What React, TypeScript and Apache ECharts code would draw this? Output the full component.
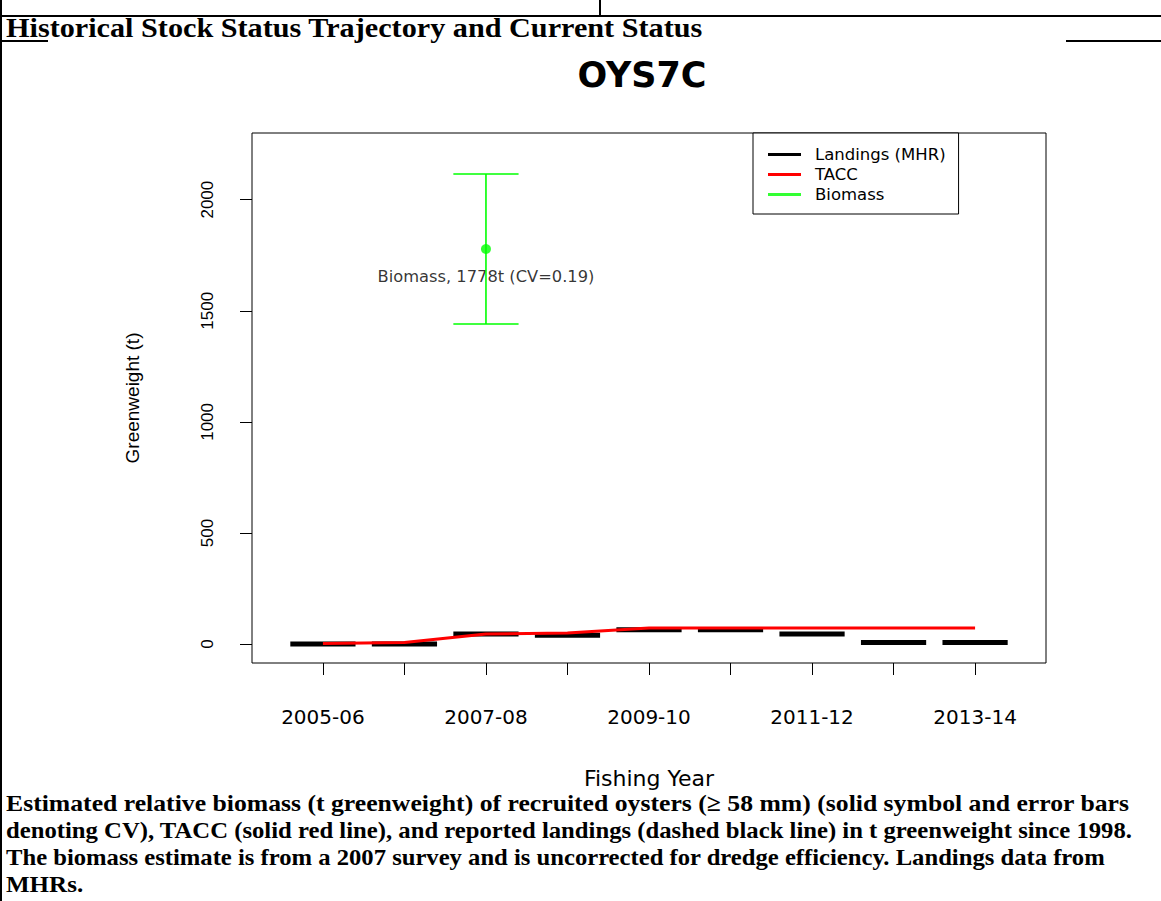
import React, { useEffect, useRef } from 'react';
import * as echarts from 'echarts';

// ---- data ----
const yearLabels = ['2005-06', '2006-07', '2007-08', '2008-09', '2009-10', '2010-11', '2011-12', '2012-13', '2013-14'];
const xTickIdx = [0, 1, 2, 3, 4, 5, 6, 7, 8];
const xLabelIdx = [0, 2, 4, 6, 8];
const yTicks = [0, 500, 1000, 1500, 2000];
const landings = [0, 0, 45, 40, 65, 65, 45, 7, 7];
const tacc = [3, 7, 45, 50, 72, 72, 72, 72, 72];
const biomassIdx = 2;
const biomassValue = 1778;
const biomassCV = 0.19;
const biomassLabelValue = 1655;
const biomassLabel = 'Biomass, 1778t (CV=0.19)';
const legendNames = ['Landings (MHR)', 'TACC', 'Biomass'];
const chartTitle = 'OYS7C';
const xTitle = 'Fishing Year';
const yTitle = 'Greenweight (t)';
const headerText = 'Historical Stock Status Trajectory and Current Status';
const captionLines = [
  'Estimated relative biomass (t greenweight) of recruited oysters (\u2265 58 mm) (solid symbol and error bars',
  'denoting CV), TACC (solid red line), and reported landings (dashed black line) in t greenweight since 1998.',
  'The biomass estimate is from a 2007 survey and is uncorrected for dredge efficiency. Landings data from',
  'MHRs.',
];

const SANS = '"DejaVu Sans", sans-serif';
const ARIAL = '"Liberation Sans", Arial, sans-serif';
const SERIF = '"Liberation Serif", "Times New Roman", serif';

function measure(text: string, font: string): number {
  const c = document.createElement('canvas').getContext('2d');
  if (!c) return 1;
  c.font = font;
  return c.measureText(text).width || 1;
}

export default function App() {
  const ref = useRef<HTMLDivElement>(null);
  useEffect(() => {
    if (!ref.current) return;
    const chart = echarts.init(ref.current, undefined, { renderer: 'svg' });

    const headerSize = 27;
    const headerScale = 697 / measure(headerText, `bold ${headerSize}px ${SERIF}`);
    const capSize = 24;
    const capFont = `bold ${capSize}px ${SERIF}`;
    const capTargets = [1124, 1127, 1100];
    const capScales = capTargets.map((w, i) => w / measure(captionLines[i], capFont));
    const avgScale = (capScales[0] + capScales[1] + capScales[2]) / 3;
    const capY = [803, 830, 857, 884];

    const border = { stroke: '#000', lineWidth: 2 };
    const graphics: any[] = [
      { type: 'line', shape: { x1: 1, y1: 0, x2: 1, y2: 901 }, style: border },
      { type: 'line', shape: { x1: 0, y1: 16, x2: 1161, y2: 16 }, style: border },
      { type: 'line', shape: { x1: 600, y1: 0, x2: 600, y2: 16 }, style: border },
      { type: 'line', shape: { x1: 0, y1: 41, x2: 48, y2: 41 }, style: border },
      { type: 'line', shape: { x1: 1066, y1: 41, x2: 1161, y2: 41 }, style: border },
      {
        type: 'text', x: 6, y: 28, scaleX: headerScale,
        style: { text: headerText, x: 0, y: 0, fontFamily: SERIF, fontWeight: 'bold', fontSize: headerSize, fill: '#000', align: 'left', verticalAlign: 'middle' },
      },
      {
        type: 'text', x: 642, y: 75,
        style: { text: chartTitle, x: 0, y: 0, fontFamily: SANS, fontWeight: 'bold', fontSize: 35, fill: '#000', align: 'center', verticalAlign: 'middle' },
      },
      ...captionLines.map((t, i) => ({
        type: 'text', x: 6, y: capY[i], scaleX: i < 3 ? capScales[i] : avgScale,
        style: { text: t, x: 0, y: 0, fontFamily: SERIF, fontWeight: 'bold', fontSize: capSize, fill: '#000', align: 'left', verticalAlign: 'middle' },
      })),
    ];

    const lo = biomassValue * (1 - biomassCV);
    const hi = biomassValue * (1 + biomassCV);

    const option: any = {
      animation: false,
      backgroundColor: '#fff',
      grid: {
        left: 252, top: 133, width: 794, height: 530,
        show: true, borderColor: '#000', borderWidth: 1, backgroundColor: 'transparent',
        containLabel: false, outerBoundsMode: 'none',
      },
      xAxis: {
        type: 'value', min: -0.87, max: 8.87,
        axisLine: { show: false, onZero: false },
        splitLine: { show: false },
        axisTick: { show: true, inside: false, length: 12, customValues: xTickIdx, lineStyle: { color: '#000', width: 1 } },
        axisLabel: {
          show: true, customValues: xLabelIdx, margin: 44,
          formatter: (v: number) => yearLabels[Math.round(v)] ?? '',
          fontFamily: SANS, fontSize: 20, color: '#000',
        },
        name: xTitle, nameLocation: 'middle', nameGap: 104,
        nameTextStyle: { fontFamily: SANS, fontSize: 22, color: '#000' },
      },
      yAxis: {
        type: 'value', min: -85, max: 2300,
        axisLine: { show: false, onZero: false },
        splitLine: { show: false },
        axisTick: { show: true, inside: false, length: 12, customValues: yTicks, lineStyle: { color: '#000', width: 1 } },
        axisLabel: {
          show: true, customValues: yTicks, rotate: 90, margin: 36,
          formatter: (v: number) => String(v),
          fontFamily: ARIAL, fontSize: 17, color: '#000',
        },
        name: yTitle, nameLocation: 'middle', nameGap: 110, nameRotate: 90,
        nameTextStyle: { fontFamily: ARIAL, fontSize: 19, color: '#000' },
      },
      legend: {
        orient: 'vertical', left: 753, top: 133,
        backgroundColor: '#fff', borderColor: '#000', borderWidth: 1, borderRadius: 0,
        padding: [13, 13, 11, 15], itemWidth: 33, itemHeight: 3, itemGap: 3,
        selectedMode: false,
        textStyle: { fontFamily: SANS, fontSize: 16.5, color: '#000', lineHeight: 16, padding: [0, 0, 0, 9] },
        data: legendNames.map((n) => ({ name: n, icon: 'rect' })),
      },
      tooltip: { show: false },
      series: [
        {
          name: legendNames[0], type: 'custom', z: 2,
          itemStyle: { color: '#000' },
          encode: { x: 0, y: 1 },
          data: landings.map((v, i) => [i, v]),
          renderItem: (params: any, api: any) => {
            const x = api.value(0), y = api.value(1);
            const a = api.coord([x - 0.4, y]);
            const b = api.coord([x + 0.4, y]);
            return { type: 'line', shape: { x1: a[0], y1: a[1], x2: b[0], y2: b[1] }, style: { stroke: '#000', lineWidth: 5, lineCap: 'butt' } };
          },
        },
        {
          name: legendNames[1], type: 'line', z: 3,
          data: tacc.map((v, i) => [i, v]),
          showSymbol: false, symbol: 'none',
          itemStyle: { color: '#ff0000' },
          lineStyle: { color: '#ff0000', width: 3 },
        },
        {
          name: 'annotation', type: 'scatter', z: 4, silent: true,
          data: [[biomassIdx, biomassLabelValue]],
          symbolSize: 1, itemStyle: { color: 'rgba(0,0,0,0)' },
          label: { show: true, position: 'inside', formatter: biomassLabel, fontFamily: SANS, fontSize: 16.3, color: '#000' },
        },
        {
          name: 'errorbar', type: 'custom', z: 5, silent: true,
          encode: { x: 0, y: [1, 2] },
          data: [[biomassIdx, lo, hi]],
          renderItem: (params: any, api: any) => {
            const x = api.value(0), l = api.value(1), h = api.value(2);
            const pl = api.coord([x, l]);
            const ph = api.coord([x, h]);
            const cl = api.coord([x - 0.4, l])[0];
            const cr = api.coord([x + 0.4, l])[0];
            const st = { stroke: '#00ff00', lineWidth: 1.6 };
            return {
              type: 'group', children: [
                { type: 'line', shape: { x1: pl[0], y1: pl[1], x2: ph[0], y2: ph[1] }, style: st },
                { type: 'line', shape: { x1: cl, y1: ph[1], x2: cr, y2: ph[1] }, style: st },
                { type: 'line', shape: { x1: cl, y1: pl[1], x2: cr, y2: pl[1] }, style: st },
              ],
            };
          },
        },
        {
          name: legendNames[2], type: 'scatter', z: 6,
          data: [[biomassIdx, biomassValue]],
          symbol: 'circle', symbolSize: 10,
          itemStyle: { color: '#00ff00' },
        },
      ],
      graphic: graphics,
    };
    chart.setOption(option);
    return () => chart.dispose();
  }, []);

  return <div ref={ref} style={{ position: 'absolute', left: 0, top: 0, width: 1161, height: 901, background: '#fff' }} />;
}
